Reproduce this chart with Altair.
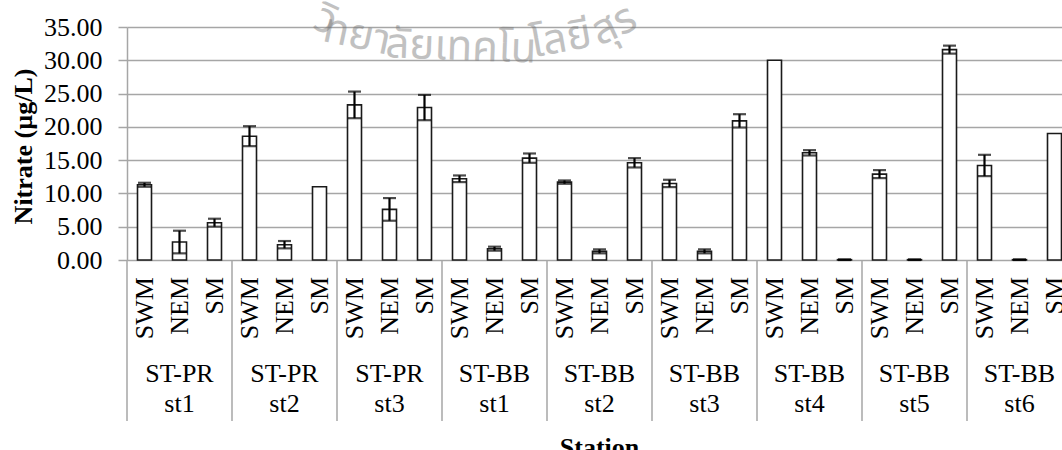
import altair as alt
import pandas as pd

# ---------------- data ----------------
station_top = ["ST-PR", "ST-PR", "ST-PR", "ST-BB", "ST-BB", "ST-BB", "ST-BB", "ST-BB", "ST-BB"]
station_bottom = ["st1", "st2", "st3", "st1", "st2", "st3", "st4", "st5", "st6"]
seasons = ["SWM", "NEM", "SM"]

swm = [11.3, 18.6, 23.3, 12.2, 11.7, 11.5, 30.0, 12.9, 14.2]
nem = [2.7, 2.3, 7.6, 1.7, 1.3, 1.3, 16.1, 0.05, 0.05]
sm = [5.6, 11.0, 22.9, 15.3, 14.6, 20.9, 0.05, 31.6, 19.0]

swm_err = [0.3, 1.5, 2.0, 0.5, 0.25, 0.55, 0.0, 0.6, 1.6]
nem_err = [1.7, 0.55, 1.7, 0.3, 0.3, 0.3, 0.4, 0.05, 0.05]
sm_err = [0.6, 0.0, 1.9, 0.7, 0.7, 1.0, 0.05, 0.6, 0.0]

y_ticks = [0, 5, 10, 15, 20, 25, 30, 35]

values = {"SWM": swm, "NEM": nem, "SM": sm}
errors = {"SWM": swm_err, "NEM": nem_err, "SM": sm_err}

rows = []
for i in range(len(station_top)):
    for s in seasons:
        v = values[s][i]
        e = errors[s][i]
        rows.append({
            "cat": f"{station_top[i]} {station_bottom[i]} {s}",
            "group": i,
            "season": s,
            "top": station_top[i],
            "bottom": station_bottom[i],
            "value": v,
            "err": e,
            "lo": v - e,
            "hi": v + e,
        })
df = pd.DataFrame(rows)
cats = list(df["cat"])
err_df = df[df["err"] > 0]
first_df = df[df["season"] == "SWM"]
mid_df = df[df["season"] == "NEM"]

SERIF = "Liberation Serif"
GRID = "#a6a6a6"

xscale = alt.Scale(domain=cats, range=[0, 945], paddingInner=0.6, paddingOuter=0.3)
X = alt.X("cat:N", scale=xscale, axis=None, sort=cats)

yaxis = alt.Axis(
    values=y_ticks, format=".2f", grid=True, gridColor=GRID, gridWidth=1.5,
    domainColor=GRID, domainWidth=1.5, tickColor=GRID, tickWidth=1.5, tickSize=9,
    labelOverlap=False, labelFlush=False,
    labelPadding=16, labelFont=SERIF, labelFontSize=26, labelColor="black",
    title="Nitrate (µg/L)", titleFont=SERIF, titleFontSize=26, titleFontWeight="bold",
    titleColor="black", titleAngle=270, titleX=-103.5, titleY=119,
    titleAlign="center", titleBaseline="middle",
)
yscale = alt.Scale(domain=[0, 35], nice=False)


def Yf(field):
    return alt.Y(field, scale=yscale, axis=yaxis)


base = alt.Chart(df)

# watermark (faint Thai text along an arc)
wm_parts = ["วิ", "ทยา", "ลัยเทคโน", "โลยี", "สุร"]
wm_pos = [(199, -7, 25), (230, 8, 12), (334, 20, 2), (434, 12, 350), (487, -2, 335)]
wm_layers = []
for part, (px, py, ang) in zip(wm_parts, wm_pos):
    wm_layers.append(
        alt.Chart(pd.DataFrame({"t": [part]})).mark_text(
            font="Noto Sans Thai, Loma, Garuda, Noto Sans, sans-serif", fontSize=42,
            color="#777777", opacity=0.45, angle=ang, align="center", baseline="middle",
        ).encode(x=alt.value(px), y=alt.value(py), text="t:N")
    )

bars = base.mark_bar(fill="white", stroke="#1a1a1a", strokeWidth=1.6).encode(x=X, y=Yf("value:Q"))

err_rule = alt.Chart(err_df).mark_rule(color="black", strokeWidth=2.2).encode(
    x=X, y=Yf("lo:Q"), y2="hi:Q"
)
cap_lo = alt.Chart(err_df).mark_tick(color="black", thickness=2.2, size=13, orient="horizontal").encode(
    x=X, y=Yf("lo:Q")
)
cap_hi = alt.Chart(err_df).mark_tick(color="black", thickness=2.2, size=13, orient="horizontal").encode(
    x=X, y=Yf("hi:Q")
)

separators = alt.Chart(first_df).mark_rule(color=GRID, strokeWidth=1.5, xOffset=-10.5).encode(
    x=alt.X("cat:N", scale=xscale, axis=None, sort=cats, bandPosition=0),
    y=alt.value(233), y2=alt.value(394),
)

season_labels = base.mark_text(
    angle=270, align="right", baseline="middle", font=SERIF, fontSize=26, color="black"
).encode(x=X, y=alt.value(250), text="season:N")

top_labels = alt.Chart(mid_df).mark_text(
    align="center", baseline="alphabetic", font=SERIF, fontSize=26, color="black"
).encode(x=X, y=alt.value(355), text="top:N")

bottom_labels = alt.Chart(mid_df).mark_text(
    align="center", baseline="alphabetic", font=SERIF, fontSize=26, color="black"
).encode(x=X, y=alt.value(385), text="bottom:N")

x_title = alt.Chart(pd.DataFrame({"t": ["Station"]})).mark_text(
    align="center", baseline="alphabetic", font=SERIF, fontSize=26, fontWeight="bold", color="black"
).encode(x=alt.value(472.5), y=alt.value(429), text="t:N")

chart = alt.layer(
    bars, *wm_layers, err_rule, cap_lo, cap_hi, separators,
    season_labels, top_labels, bottom_labels, x_title,
).properties(
    width=935, height=233,
    autosize=alt.AutoSizeParams(type="none"),
    padding={"left": 127, "top": 27, "right": 0, "bottom": 190},
    background="white",
).configure_view(strokeWidth=0)

chart.save("out.html", embed_options={"renderer": "svg", "actions": False})
